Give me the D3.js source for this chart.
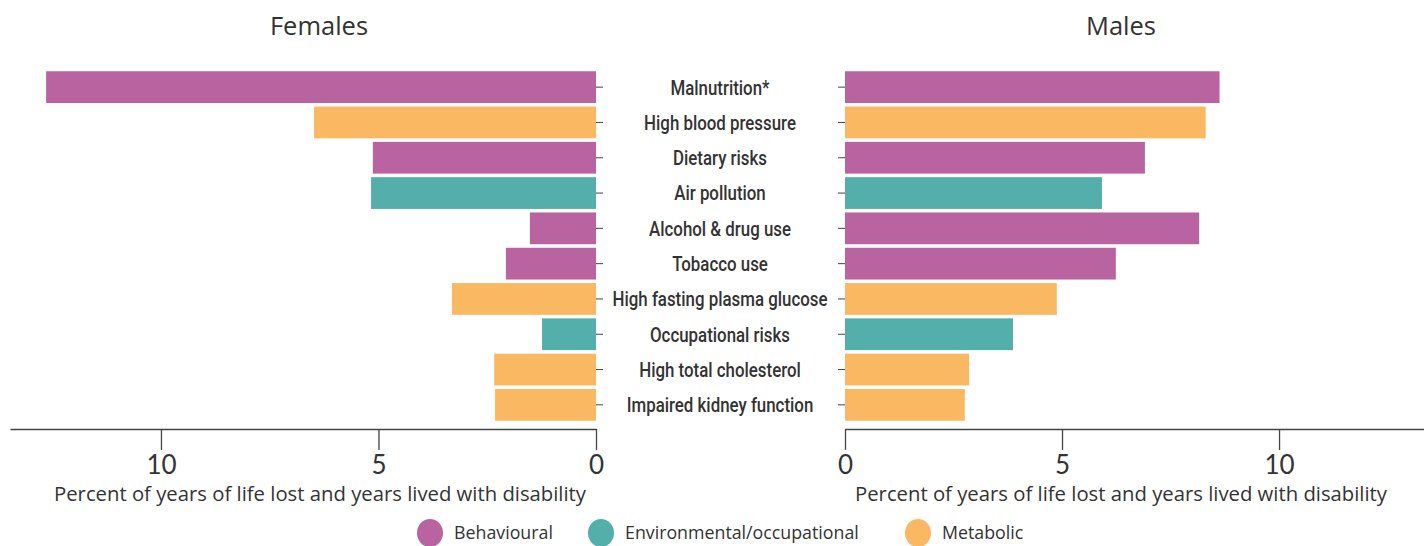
<!DOCTYPE html>
<html>
<head>
<meta charset="utf-8">
<script src="https://cdn.jsdelivr.net/npm/d3@7"></script>
<style>
  body { margin: 0; background: #fff; }
  svg text { fill: #333; }
  .cat text { font-family: Roboto, "Noto Sans", sans-serif; font-size: 20.5px; font-weight: 500; }
  .xax text { font-family: Lato, "Noto Sans", sans-serif; font-size: 26px; }
  .xax path, .xax line, .cat line { stroke: #444; }
  .light { font-family: "Open Sans", "Noto Sans", sans-serif; }
</style>
</head>
<body>
<div id="root"></div>
<script>
// risk factors, top to bottom
let risks = ["Malnutrition*", "High blood pressure", "Dietary risks", "Air pollution",
  "Alcohol & drug use", "Tobacco use", "High fasting plasma glucose", "Occupational risks",
  "High total cholesterol", "Impaired kidney function"];
let groups = ["Behavioural", "Metabolic", "Behavioural", "Environmental", "Behavioural",
  "Behavioural", "Metabolic", "Environmental", "Metabolic", "Metabolic"];
let females = [12.64, 6.48, 5.13, 5.17, 1.52, 2.07, 3.31, 1.24, 2.34, 2.32];
let males = [8.63, 8.31, 6.91, 5.92, 8.16, 6.24, 4.88, 3.87, 2.86, 2.76];
let xTicks = [0, 5, 10];
let legendNames = ["Behavioural", "Environmental/occupational", "Metabolic"];
let legendKeys = ["Behavioural", "Environmental", "Metabolic"];

let color = d3.scaleOrdinal().domain(legendKeys).range(["#b964a1", "#54afab", "#fbb862"]);

let width = 1424, height = 546;
let svg = d3.select("#root").append("svg").attr("width", width).attr("height", height);

let y = d3.scaleBand().domain(risks).range([69.5, 422.5]).paddingInner(0.1).paddingOuter(0.05);
let xL = d3.scaleLinear().domain([0, 13.47]).range([596, 10]);
let xR = d3.scaleLinear().domain([0, 13.34]).range([845, 1424]);
let axisY = 429;

// female bars
svg.append("g").selectAll("rect").data(risks).join("rect")
  .attr("x", (d, i) => xL(females[i]))
  .attr("y", (d) => y(d))
  .attr("width", (d, i) => xL(0) - xL(females[i]))
  .attr("height", y.bandwidth())
  .attr("fill", (d, i) => color(groups[i]));

// male bars
svg.append("g").selectAll("rect").data(risks).join("rect")
  .attr("x", xR(0))
  .attr("y", (d) => y(d))
  .attr("width", (d, i) => xR(males[i]) - xR(0))
  .attr("height", y.bandwidth())
  .attr("fill", (d, i) => color(groups[i]));

// category ticks on both sides
let catL = svg.append("g").attr("class", "cat")
  .attr("transform", "translate(" + xL(0) + ",0)")
  .call(d3.axisRight(y).tickSize(7).tickSizeOuter(0).tickFormat(""));
catL.select(".domain").remove();
let catR = svg.append("g").attr("class", "cat")
  .attr("transform", "translate(" + xR(0) + ",0)")
  .call(d3.axisLeft(y).tickSize(7).tickSizeOuter(0).tickFormat(""));
catR.select(".domain").remove();

// category labels centred between the panels (squeezed to look condensed)
let labels = svg.append("g").attr("class", "cat").selectAll("text").data(risks).join("text")
  .attr("x", 0)
  .attr("y", 0)
  .attr("dy", "0.36em")
  .attr("text-anchor", "middle")
  .text((d) => d);
let longest = labels.filter((d) => d === "High fasting plasma glucose").node().getComputedTextLength();
let squeeze = 215 / longest;
labels.attr("transform", (d) => "translate(720," + (y(d) + y.bandwidth() / 2) + ") scale(" + squeeze + ",1)");

// x axes
svg.append("g").attr("class", "xax")
  .attr("transform", "translate(0," + axisY + ")")
  .call(d3.axisBottom(xL).tickValues(xTicks).tickSize(21).tickSizeOuter(0).tickPadding(6));
svg.append("g").attr("class", "xax")
  .attr("transform", "translate(0," + axisY + ")")
  .call(d3.axisBottom(xR).tickValues(xTicks).tickSize(21).tickSizeOuter(0).tickPadding(6));
svg.selectAll(".xax path, .xax line").attr("stroke-width", 1.3);

// axis titles
let axTitle = "Percent of years of life lost and years lived with disability";
[320, 1121].forEach((cx) => {
  svg.append("text").attr("class", "light").attr("x", cx).attr("y", 501).attr("text-anchor", "middle")
    .style("font-size", "20.3px").text(axTitle);
});

// panel titles
svg.append("text").attr("class", "light").attr("x", 319).attr("y", 35).attr("text-anchor", "middle")
  .style("font-size", "25.5px").text("Females");
svg.append("text").attr("class", "light").attr("x", 1121).attr("y", 35).attr("text-anchor", "middle")
  .style("font-size", "25.5px").text("Males");

// legend
let legX = [430, 601, 918];
let leg = svg.append("g").selectAll("g").data(legendKeys).join("g")
  .attr("transform", (d, i) => "translate(" + legX[i] + ",533)");
leg.append("ellipse").attr("rx", 13).attr("ry", 14).attr("fill", (d) => color(d));
leg.append("text").attr("class", "light").attr("x", 24).attr("dy", "0.35em")
  .style("font-size", "17.8px")
  .text((d, i) => legendNames[i]);
</script>
</body>
</html>
